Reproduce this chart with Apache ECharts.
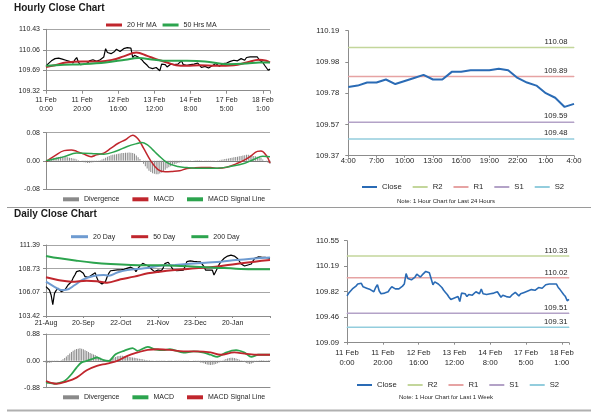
<!DOCTYPE html>
<html><head><meta charset="utf-8">
<script src="https://cdn.jsdelivr.net/npm/echarts@6/dist/echarts.min.js"></script>
<style>html,body{margin:0;padding:0;background:#fff}#c{width:600px;height:413px}</style>
</head><body><div id="c"></div>
<script>
// ---------- DATA ----------
const hourTicks = ['11 Feb\n0:00','11 Feb\n20:00','12 Feb\n16:00','13 Feb\n12:00','14 Feb\n8:00','17 Feb\n5:00','18 Feb\n1:00'];
const dayTicks = ['21-Aug','20-Sep','22-Oct','21-Nov','23-Dec','20-Jan'];
const h24Ticks = ['4:00','7:00','10:00','13:00','16:00','19:00','22:00','1:00','4:00'];

const hourPriceY = ['109.32','109.69','110.06','110.43'];
const hourMacdY = ['-0.08','0.00','0.08'];
const h24Y = ['109.37','109.57','109.78','109.98','110.19'];
const dailyPriceY = ['103.42','106.07','108.73','111.39'];
const dailyMacdY = ['-0.88','0.00','0.88'];
const weekY = ['109.09','109.46','109.82','110.19','110.55'];

const weekClose = [
109.76,109.80,109.83,109.86,109.88,109.90,109.93,109.91,109.94,109.89,
109.88,109.87,109.86,109.85,109.83,109.82,109.88,109.92,109.83,109.79,
109.77,109.80,109.81,109.82,109.86,109.89,109.88,109.86,109.85,109.86,
109.88,109.90,109.93,110.08,110.01,110.00,109.99,110.01,110.03,110.07,
110.05,110.03,110.06,110.08,110.11,110.10,110.09,110.09,109.92,109.96,
109.95,109.93,109.91,109.88,109.84,109.81,109.78,109.74,109.71,109.72,
109.73,109.74,109.75,109.68,109.80,109.78,109.79,109.75,109.78,109.80,
109.77,109.79,109.82,109.80,109.79,109.86,109.79,109.78,109.78,109.79,
109.79,109.80,109.80,109.81,109.82,109.82,109.74,109.77,109.76,109.75,
109.73,109.74,109.77,109.78,109.81,109.79,109.76,109.79,109.81,109.81,
109.82,109.83,109.85,109.85,109.87,109.84,109.86,109.88,109.90,109.87,
109.87,109.92,109.92,109.93,109.93,109.93,109.94,109.93,109.88,109.85,
109.83,109.78,109.75,109.69,109.71];

const last24Close = [109.82,109.83,109.85,109.85,109.87,109.84,109.86,109.88,109.90,109.87,109.87,109.92,109.92,109.93,109.93,109.93,109.94,109.93,109.88,109.85,109.83,109.78,109.75,109.69,109.71];

const ma20Hr = [[0,109.75],[5,109.78],[11,109.83],[20,109.85],[30,109.85],[37,109.88],[43,109.94],[50,110.01],[56,109.95],[61,109.89],[67,109.83],[72,109.78],[78,109.77],[85,109.78],[94,109.77],[104,109.78],[111,109.83],[118,109.88],[122,109.86],[124,109.83]];
const ma50Hr = [[0,109.77],[10,109.79],[20,109.80],[33,109.83],[44,109.88],[51,109.91],[60,109.88],[67,109.86],[78,109.86],[88,109.85],[100,109.80],[111,109.81],[118,109.83],[124,109.83]];

const hourMacd = [[0,-0.002],[5,0.015],[10,0.029],[14,0.031],[17,0.027],[21,0.019],[25,0.012],[28,0.017],[32,0.022],[36,0.036],[40,0.050],[44,0.060],[48,0.073],[51,0.062],[54,0.036],[58,0.000],[62,-0.025],[66,-0.031],[70,-0.030],[74,-0.028],[78,-0.022],[82,-0.020],[86,-0.019],[91,-0.019],[95,-0.021],[100,-0.018],[106,-0.007],[110,0.003],[113,0.012],[117,0.027],[119,0.028],[122,0.015],[124,-0.006]];
const hourSignal = [[0,0.000],[5,0.006],[10,0.012],[17,0.022],[25,0.021],[32,0.019],[39,0.028],[45,0.041],[51,0.050],[53,0.052],[56,0.046],[59,0.032],[62,0.017],[67,-0.005],[73,-0.016],[78,-0.019],[86,-0.021],[95,-0.021],[102,-0.016],[110,-0.007],[115,0.004],[120,0.013],[124,0.012]];
const hourDiv = [
0.000,0.002,0.004,0.006,0.008,0.009,0.010,0.011,0.012,0.012,
0.012,0.011,0.010,0.009,0.008,0.007,0.006,0.004,0.002,0.000,
-0.002,-0.004,-0.005,-0.006,-0.006,-0.005,-0.004,-0.003,-0.002,-0.001,
0.002,0.004,0.006,0.009,0.012,0.014,0.016,0.017,0.018,0.019,
0.020,0.021,0.022,0.022,0.023,0.023,0.024,0.023,0.022,0.020,
0.015,0.010,0.005,0.000,-0.008,-0.015,-0.022,-0.028,-0.032,-0.035,
-0.037,-0.038,-0.038,-0.036,-0.033,-0.029,-0.025,-0.021,-0.018,-0.015,
-0.012,-0.010,-0.008,-0.006,-0.005,-0.004,-0.003,-0.002,-0.002,-0.001,
-0.001,0.000,0.001,0.002,0.002,0.002,0.001,0.000,-0.001,-0.001,
-0.002,-0.002,-0.002,-0.001,0.000,0.001,0.002,0.003,0.004,0.005,
0.006,0.007,0.008,0.009,0.010,0.011,0.012,0.013,0.014,0.015,
0.016,0.017,0.017,0.016,0.015,0.014,0.013,0.012,0.010,0.008,
0.004,0.000,-0.003,-0.006,-0.008];

const dailyClose = [
106.71,106.50,106.34,105.78,104.70,105.96,106.30,106.53,106.40,106.15,
106.25,106.34,106.60,106.90,107.10,107.27,107.70,108.02,108.40,108.30,
108.51,108.35,108.21,107.84,107.90,107.76,107.85,108.02,108.15,108.28,
107.70,107.27,107.10,107.01,107.15,107.27,107.80,108.21,108.50,108.66,
108.55,108.51,108.60,108.66,108.60,108.70,108.66,108.75,108.80,108.88,
108.90,108.96,108.70,108.40,108.70,108.96,109.15,109.33,109.25,109.15,
109.05,108.96,108.70,108.51,108.40,108.50,108.58,108.55,108.51,108.80,
109.30,109.52,109.45,109.33,108.90,108.58,108.55,108.50,108.51,108.55,
108.60,108.58,109.00,109.52,109.58,109.60,109.63,109.55,109.58,109.52,
109.45,109.50,109.41,109.00,108.58,108.65,108.58,108.62,108.58,108.02,
107.84,108.77,109.20,109.50,109.70,109.90,110.05,110.15,110.20,110.25,
110.27,110.15,110.01,109.85,109.70,109.26,109.10,109.03,109.10,109.15,
109.20,109.26,109.60,109.89,110.00,110.05,110.08,110.02,110.05,110.01,
110.05,109.95,109.89];
const ma20Day = [[0,107.27],[5,106.70],[9,106.34],[12,106.36],[17,106.90],[22,107.54],[28,107.91],[34,108.02],[37,107.95],[42,108.30],[48,108.58],[58,108.77],[66,109.03],[76,109.15],[94,109.41],[103,109.52],[112,109.70],[121,109.85],[132,110.00]];
const ma50Day = [[0,107.76],[7,107.46],[15,107.27],[24,107.39],[32,107.27],[36,107.16],[44,107.54],[52,107.84],[60,108.21],[67,108.40],[76,108.58],[88,108.77],[100,108.96],[112,109.26],[123,109.52],[132,109.70]];
const ma200Day = [[0,110.16],[8,109.89],[18,109.63],[28,109.41],[38,109.26],[50,109.15],[66,109.11],[76,109.07],[88,108.96],[100,108.85],[112,108.73],[123,108.66],[132,108.66]];

const dayMacd = [[0,-0.70],[1,-0.72],[5,-0.75],[8,-0.72],[11,-0.66],[15,-0.44],[18,-0.22],[21,-0.05],[24,0.00],[27,0.055],[30,0.11],[34,0.02],[37,0.00],[41,0.22],[46,0.33],[51,0.42],[54,0.33],[60,0.46],[64,0.38],[70,0.35],[73,0.38],[81,0.27],[87,0.31],[93,0.27],[97,0.20],[101,0.13],[106,0.27],[112,0.35],[117,0.27],[121,0.13],[125,0.20],[132,0.20]];
const daySignal = [[0,-0.66],[6,-0.75],[12,-0.68],[18,-0.55],[24,-0.31],[30,-0.165],[36,-0.09],[42,0.00],[48,0.165],[54,0.275],[60,0.36],[66,0.38],[73,0.36],[81,0.31],[89,0.31],[97,0.275],[103,0.20],[111,0.275],[117,0.24],[125,0.20],[132,0.20]];
const dayDiv = [
-0.05,-0.06,-0.06,-0.05,-0.04,-0.03,-0.02,-0.01,0.00,0.02,
0.05,0.09,0.14,0.19,0.24,0.29,0.33,0.36,0.39,0.40,
0.41,0.40,0.38,0.35,0.32,0.29,0.26,0.23,0.21,0.19,
0.16,0.13,0.10,0.07,0.05,0.03,0.02,0.03,0.05,0.08,
0.11,0.13,0.15,0.16,0.17,0.17,0.16,0.15,0.14,0.13,
0.12,0.11,0.10,0.09,0.08,0.07,0.06,0.05,0.04,0.03,
0.02,0.02,0.01,0.01,0.00,-0.01,-0.01,-0.02,-0.02,-0.02,
-0.01,0.00,0.01,0.01,0.01,0.00,-0.01,-0.02,-0.03,-0.03,
-0.03,-0.02,-0.02,-0.01,-0.01,0.00,0.00,-0.01,-0.02,-0.03,
-0.04,-0.05,-0.06,-0.08,-0.10,-0.12,-0.13,-0.14,-0.13,-0.12,
-0.10,-0.08,-0.05,-0.02,0.01,0.04,0.06,0.08,0.09,0.10,
0.10,0.09,0.08,0.06,0.04,0.02,-0.01,-0.04,-0.07,-0.09,
-0.10,-0.09,-0.07,-0.04,-0.01,0.01,0.02,0.02,0.02,0.01,
0.01,0.02,0.02];

const levelNames = ['R2','R1','S1','S2'];
const last24Levels = [110.08, 109.89, 109.59, 109.48];
const weekLevels = [110.33, 110.02, 109.51, 109.31];

// ---------- CHART ----------
const F = '"Liberation Sans", Arial, sans-serif';
const TXT = '#262626', AX = '#8c8c8c', GR = '#a6a6a6';
const RED = '#c0262d', GREEN = '#2ca44e', BLUE = '#6e9bd1', CLOSEBLUE = '#2a6bb5', DIV = '#8a8a8a';
const LVCOL = {R2:'#c3d69b', R1:'#e6a3a3', S1:'#b3a2c7', S2:'#93cddd'};

const chart = echarts.init(document.getElementById('c'), null, {renderer:'canvas', width:600, height:413});

const grids = [
  {left:46, top:29.3, width:224, height:61.4},
  {left:46, top:132.7, width:224, height:56.3},
  {left:348.3, top:30.7, width:225.7, height:125},
  {left:46, top:245, width:224, height:71},
  {left:46, top:334, width:224, height:53.7},
  {left:347, top:240.7, width:222, height:102}
];
const xAxes = [], yAxes = [], series = [];
function addAxes(g, o) {
  xAxes.push({gridIndex:g, type:'value', min:0, max:o.xMax, interval:o.xInt,
    axisLine:{show:true, onZero:false, lineStyle:{color:AX}},
    axisTick:{show:true, length:o.tickLen, lineStyle:{color:AX}},
    splitLine:{show:false},
    axisLabel:{show:true, margin:o.xMargin, fontFamily:F, fontSize:o.fs, lineHeight:o.xLH, color:TXT,
      showMinLabel:true, showMaxLabel:true, hideOverlap:false,
      formatter:(v)=>{const k=Math.round(v/o.xInt); return (Math.abs(v-k*o.xInt)<1e-6 && o.xLabels[k]!==undefined)?o.xLabels[k]:'';}}});
  yAxes.push({gridIndex:g, type:'category', boundaryGap:false, data:o.yLabels,
    axisLine:{show:true, onZero:false, lineStyle:{color:AX}},
    axisTick:{show:true, length:3, interval:0, lineStyle:{color:AX}},
    splitLine:{show:o.grid, interval:0, lineStyle:{color:o.gridColors||GR, width:1}},
    axisLabel:{interval:0, margin:o.yMargin, fontFamily:F, fontSize:o.fs, color:TXT}});
  yAxes.push({gridIndex:g, type:'value', show:false, min:+o.yLabels[0], max:+o.yLabels[o.yLabels.length-1]});
}
const pairs = arr => arr.map((v,i)=>[i,v]);
function line(g, name, data, color, width, extra) {
  series.push(Object.assign({type:'line', name, xAxisIndex:g, yAxisIndex:2*g+1, data, symbol:'none', showSymbol:false,
    lineStyle:{color, width}, itemStyle:{color}, silent:true, animation:false}, extra||{}));
}
function bars(g, name, vals) {
  series.push({type:'bar', name, xAxisIndex:g, yAxisIndex:2*g+1, data:pairs(vals), barWidth:1,
    itemStyle:{color:DIV}, silent:true, animation:false});
}
function level(g, name, key, v, xMax, dist, off) {
  const color = LVCOL[key];
  series.push({type:'line', name, xAxisIndex:g, yAxisIndex:2*g+1, symbol:'circle', symbolSize:1, showSymbol:true,
    lineStyle:{color, width:1.5}, itemStyle:{color}, silent:true, animation:false,
    data:[[0,v], {value:[xMax,v], label:{show:true, position:'left', distance:dist, offset:[0,off],
      formatter:v.toFixed(2), fontFamily:F, fontSize:7.7, color:TXT}}]});
}

// grid 0: hourly price
addAxes(0, {xMax:124, xInt:20, xLabels:hourTicks, xMargin:5, xLH:9, fs:7, tickLen:3, yLabels:hourPriceY, yMargin:6, grid:true});
line(0, 'hClose', pairs(weekClose), '#000000', 1.2);
line(0, '20 Hr MA', ma20Hr, RED, 2, {smooth:0.4});
line(0, '50 Hrs MA', ma50Hr, GREEN, 2, {smooth:0.4});
// grid 1: hourly MACD
addAxes(1, {xMax:124, xInt:20, xLabels:[], xMargin:5, xLH:9, fs:7, tickLen:0, yLabels:hourMacdY, yMargin:6, grid:true, gridColors:[GR,'#7a7a7a',GR]});
bars(1, 'hDiv', hourDiv);
line(1, 'hMACD', hourMacd, RED, 1.5, {smooth:0.4});
line(1, 'hSig', hourSignal, GREEN, 1.5, {smooth:0.4});
// grid 2: last 24 hours
addAxes(2, {xMax:24, xInt:3, xLabels:h24Ticks, xMargin:1, xLH:8, fs:7.7, tickLen:2, yLabels:h24Y, yMargin:9, grid:false});
levelNames.forEach((k,j)=>level(2, 'a'+k, k, last24Levels[j], 24, 6, -6));
line(2, 'aClose', pairs(last24Close), CLOSEBLUE, 2);
// grid 3: daily price
addAxes(3, {xMax:132, xInt:22, xLabels:dayTicks, xMargin:3, xLH:8, fs:7, tickLen:2, yLabels:dailyPriceY, yMargin:6, grid:true});
line(3, 'dClose', pairs(dailyClose), '#000000', 1.2);
line(3, '20 Day', ma20Day, BLUE, 2, {smooth:0.4});
line(3, '50 Day', ma50Day, RED, 2, {smooth:0.4});
line(3, '200 Day', ma200Day, GREEN, 2, {smooth:0.4});
// grid 4: daily MACD
addAxes(4, {xMax:132, xInt:22, xLabels:[], xMargin:5, xLH:8, fs:7, tickLen:0, yLabels:dailyMacdY, yMargin:6, grid:true, gridColors:[GR,'#7a7a7a',GR]});
bars(4, 'dDiv', dayDiv);
line(4, 'dMACD', dayMacd, GREEN, 1.8, {smooth:0.3});
line(4, 'dSig', daySignal, RED, 1.8, {smooth:0.4});
// grid 5: last week
addAxes(5, {xMax:124, xInt:20, xLabels:hourTicks, xMargin:5, xLH:10, fs:7.7, tickLen:2, yLabels:weekY, yMargin:8, grid:false});
levelNames.forEach((k,j)=>level(5, 'w'+k, k, weekLevels[j], 124, 1, -5));
line(5, 'wClose', pairs(weekClose), CLOSEBLUE, 1.6);

const NAMES = {hDiv:'Divergence', hMACD:'MACD', hSig:'MACD Signal Line', dDiv:'Divergence', dMACD:'MACD', dSig:'MACD Signal Line',
  aClose:'Close', aR2:'R2', aR1:'R1', aS1:'S1', aS2:'S2', wClose:'Close', wR2:'R2', wR1:'R1', wS1:'S1', wS2:'S2'};
function legend(left, top, data, o) {
  return {left, top, data, icon:'rect', orient:'horizontal', padding:0, itemWidth:o.w, itemHeight:o.h, itemGap:o.gap,
    selectedMode:false, formatter:n=>NAMES[n]||n,
    textStyle:{fontFamily:F, fontSize:o.fs, color:TXT, lineHeight:o.lh}};
}

chart.setOption({
  animation:false,
  backgroundColor:'#ffffff',
  title:[
    {text:'Hourly Close Chart', left:14, top:2, padding:0, textStyle:{fontFamily:F, fontSize:10, fontWeight:'bold', color:'#1a1a1a', lineHeight:12}},
    {text:'Daily Close Chart', left:14, top:208, padding:0, textStyle:{fontFamily:F, fontSize:10, fontWeight:'bold', color:'#1a1a1a', lineHeight:12}}
  ],
  legend:[
    legend(106, 21, ['20 Hr MA','50 Hrs MA'], {w:16, h:3, gap:6, fs:7, lh:8}),
    legend(63, 195.3, ['hDiv','hMACD','hSig'], {w:16, h:4, gap:13, fs:7, lh:8}),
    legend(362, 182.5, ['aClose','aR2','aR1','aS1','aS2'], {w:15, h:2, gap:11, fs:7.7, lh:9}),
    legend(71, 232.7, ['20 Day','50 Day','200 Day'], {w:17, h:3, gap:16, fs:7, lh:8}),
    legend(63, 393.3, ['dDiv','dMACD','dSig'], {w:16, h:4, gap:13, fs:7, lh:8}),
    legend(357, 380.5, ['wClose','wR2','wR1','wS1','wS2'], {w:15, h:2, gap:11, fs:7.7, lh:9})
  ],
  grid:grids,
  xAxis:xAxes,
  yAxis:yAxes,
  series:series,
  graphic:[
    {type:'line', silent:true, shape:{x1:7, y1:207.5, x2:591, y2:207.5}, style:{stroke:'#9a9a9a', lineWidth:1}},
    {type:'line', silent:true, shape:{x1:7, y1:410.5, x2:591, y2:410.5}, style:{stroke:'#b0b0b0', lineWidth:2}},
    {type:'text', silent:true, x:446, y:201, style:{text:'Note: 1 Hour Chart for Last 24 Hours', fontFamily:F, fontSize:6, fill:TXT, align:'center', verticalAlign:'middle'}},
    {type:'text', silent:true, x:446, y:397.7, style:{text:'Note: 1 Hour Chart for Last 1 Week', fontFamily:F, fontSize:6, fill:TXT, align:'center', verticalAlign:'middle'}}
  ]
});
</script></body></html>
